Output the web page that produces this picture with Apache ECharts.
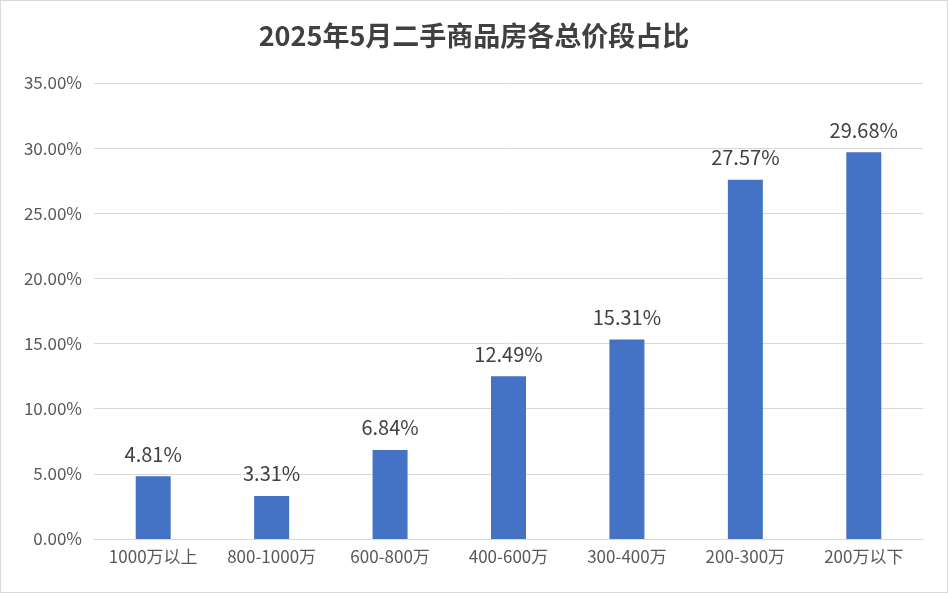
<!DOCTYPE html>
<html><head><meta charset="utf-8">
<script src="https://cdn.jsdelivr.net/npm/echarts@6/dist/echarts.min.js"></script>
<style>html,body{margin:0;padding:0;background:#fff}#c{width:948px;height:593px;box-sizing:border-box;border:1px solid #d9d9d9}</style>
</head><body><div id="c"></div>
<script>
const categories=["1000万以上","800-1000万","600-800万","400-600万","300-400万","200-300万","200万以下"];
const values=[4.81,3.31,6.84,12.49,15.31,27.57,29.68];
const chart=echarts.init(document.getElementById('c'));
chart.setOption({
  animation:false,
  title:{text:"2025年5月二手商品房各总价段占比",left:'center',top:16,textStyle:{fontFamily:"Noto Sans CJK SC",fontSize:27,fontWeight:'bold',color:'#404040'}},
  grid:{left:93,right:24,top:82,bottom:53},
  xAxis:{type:'category',data:categories,axisTick:{show:false},axisLine:{lineStyle:{color:'#d9d9d9'}},
    axisLabel:{color:'#595959',fontSize:17,fontFamily:"Noto Sans CJK SC",margin:9}},
  yAxis:{type:'value',min:0,max:35,interval:5,axisLabel:{color:'#595959',fontSize:17,fontFamily:"Noto Sans CJK SC",formatter:v=>v.toFixed(2)+'%',margin:12},
    splitLine:{lineStyle:{color:'#d9d9d9'}}},
  series:[{type:'bar',data:values,barWidth:35,itemStyle:{color:'#4472C4'},
    label:{show:true,position:'top',distance:12,color:'#404040',fontSize:20,fontFamily:"Noto Sans CJK SC",formatter:p=>p.value.toFixed(2)+'%'}}]
});
</script></body></html>
